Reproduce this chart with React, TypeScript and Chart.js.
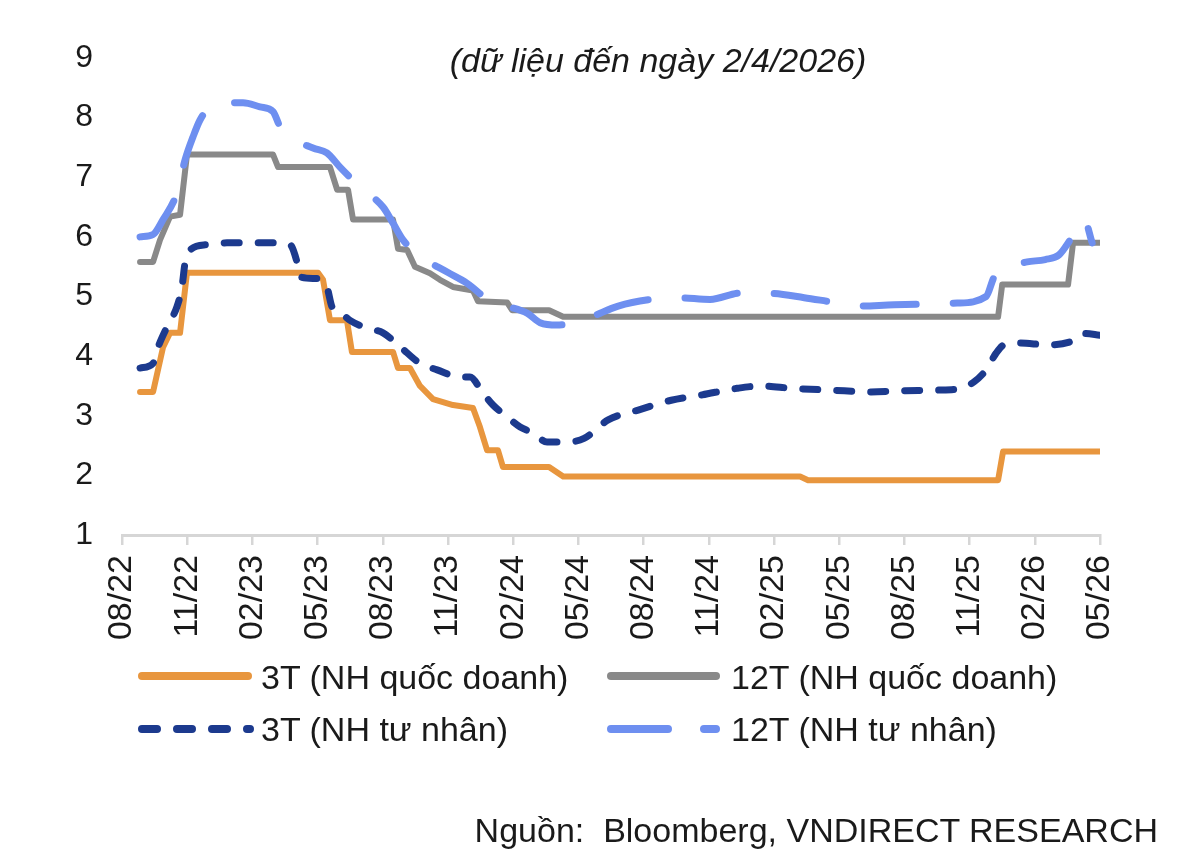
import React, { useEffect, useRef } from "react";
import { Chart, registerables } from "chart.js";

Chart.register(...registerables);

const FONT = '"Liberation Sans", Arial, Helvetica, sans-serif';
const TEXT_COLOR = "#1a1a1a";

// x values are months counted from 08/2022 (0 = 08/22, 45 = 05/26)
const xTickLabels = [
  "08/22", "11/22", "02/23", "05/23", "08/23", "11/23", "02/24", "05/24",
  "08/24", "11/24", "02/25", "05/25", "08/25", "11/25", "02/26", "05/26",
];
const yTicks = [1, 2, 3, 4, 5, 6, 7, 8, 9];

const seriesNames = [
  "3T (NH quốc doanh)",
  "12T (NH quốc doanh)",
  "3T (NH tư nhân)",
  "12T (NH tư nhân)",
];

// 3T (NH quốc doanh)
const stateShortX = [0.83, 1.43, 1.89, 2.21, 2.67, 2.99, 9.02, 9.25, 9.57, 10.35, 10.58, 12.47, 12.7, 13.25, 13.71, 14.31, 15.23, 16.15, 16.47, 16.8, 17.3, 17.53, 19.65, 20.3, 31.2, 31.57, 40.31, 40.54, 45.0];
const stateShortY = [3.4, 3.4, 4.15, 4.39, 4.39, 5.4, 5.4, 5.28, 4.6, 4.6, 4.07, 4.07, 3.8, 3.8, 3.5, 3.28, 3.18, 3.13, 2.81, 2.42, 2.42, 2.14, 2.14, 1.98, 1.98, 1.92, 1.92, 2.4, 2.4];

// 12T (NH quốc doanh)
const stateLongX = [0.83, 1.43, 1.75, 2.21, 2.67, 2.99, 6.95, 7.18, 9.57, 9.9, 10.4, 10.63, 12.47, 12.7, 13.12, 13.48, 14.17, 14.63, 15.23, 16.15, 16.38, 17.72, 17.95, 19.65, 20.3, 40.31, 40.5, 43.53, 43.76, 45.0];
const stateLongY = [5.58, 5.58, 5.95, 6.34, 6.37, 7.38, 7.38, 7.17, 7.17, 6.79, 6.79, 6.29, 6.29, 5.8, 5.78, 5.5, 5.39, 5.28, 5.16, 5.1, 4.92, 4.9, 4.77, 4.77, 4.66, 4.66, 5.2, 5.2, 5.9, 5.9];

// 3T (NH tư nhân)
const privShortX = [0.83, 1.43, 1.66, 2.07, 2.53, 2.76, 2.9, 3.13, 3.91, 4.83, 6.95, 7.73, 8.05, 8.19, 8.97, 9.43, 9.66, 10.03, 10.49, 11.27, 12.01, 12.79, 13.71, 14.5, 15.55, 16.01, 16.61, 17.07, 17.72, 18.32, 18.91, 19.56, 20.39, 21.26, 22.37, 23.79, 25.27, 26.69, 28.3, 29.41, 30.83, 32.63, 34.47, 35.9, 37.51, 38.61, 39.21, 39.76, 40.22, 40.59, 41.33, 42.57, 43.63, 44.27, 45.0];
const privShortY = [3.8, 3.88, 4.15, 4.49, 4.83, 5.16, 5.56, 5.78, 5.87, 5.9, 5.9, 5.87, 5.58, 5.33, 5.3, 5.16, 4.83, 4.74, 4.6, 4.47, 4.39, 4.16, 3.88, 3.77, 3.65, 3.65, 3.38, 3.18, 2.98, 2.81, 2.71, 2.56, 2.56, 2.62, 2.93, 3.1, 3.26, 3.35, 3.46, 3.5, 3.46, 3.43, 3.4, 3.42, 3.43, 3.46, 3.57, 3.77, 4.05, 4.19, 4.22, 4.19, 4.24, 4.38, 4.35];

// 12T (NH tư nhân)
const privLongX = [0.83, 1.43, 1.89, 2.53, 2.9, 3.27, 3.59, 4.05, 4.74, 5.57, 6.35, 6.95, 7.27, 7.59, 8.79, 9.43, 10.03, 10.95, 12.01, 12.47, 12.93, 13.62, 14.96, 15.88, 17.07, 17.86, 18.64, 19.24, 20.02, 21.45, 22.83, 24.53, 25.59, 27.06, 28.49, 29.96, 31.39, 32.63, 33.92, 35.53, 38.43, 39.76, 40.13, 40.59, 41.65, 42.48, 43.12, 43.63, 44.27, 44.64];
const privLongY = [6.0, 6.04, 6.29, 6.74, 7.29, 7.68, 7.96, 8.18, 8.24, 8.25, 8.18, 8.1, 7.85, 7.71, 7.49, 7.41, 7.17, 6.84, 6.5, 6.23, 5.95, 5.7, 5.41, 5.22, 4.89, 4.82, 4.72, 4.56, 4.52, 4.64, 4.84, 4.96, 4.98, 4.95, 5.06, 5.05, 4.98, 4.91, 4.84, 4.86, 4.89, 5.0, 5.33, 5.48, 5.58, 5.62, 5.7, 5.95, 6.29, 5.9];

const colors = ["#E8963E", "#898989", "#1C3A8E", "#6E8FF0"];
const widths = [6, 6, 7, 7];
const dashes: number[][] = [[], [], [15, 19], [53, 37]];

const toPoints = (xs: number[], ys: number[]) => xs.map((x, i) => ({ x, y: ys[i] }));

// legend sample placement (index into datasets, line start/end x, y, thickness, dash)
const legendSamples = [
  { ds: 0, x0: 142, x1: 248, y: 676, dash: [] as number[] },
  { ds: 1, x0: 611, x1: 716, y: 676, dash: [] as number[] },
  { ds: 2, x0: 142, x1: 250, y: 729, dash: [15, 20] },
  { ds: 3, x0: 611, x1: 716, y: 729, dash: [57, 36] },
];

const legendSamplePlugin = {
  id: "legendSamples",
  afterDraw(chart: any) {
    const ctx = chart.ctx as CanvasRenderingContext2D;
    ctx.save();
    legendSamples.forEach((s) => {
      const ds = chart.data.datasets[s.ds];
      ctx.beginPath();
      ctx.strokeStyle = ds.borderColor;
      ctx.lineWidth = 8;
      ctx.lineCap = "round";
      ctx.setLineDash(s.dash);
      ctx.moveTo(s.x0, s.y);
      ctx.lineTo(s.x1, s.y);
      ctx.stroke();
    });
    ctx.restore();
  },
};

export default function App() {
  const canvasRef = useRef<HTMLCanvasElement | null>(null);

  useEffect(() => {
    if (!canvasRef.current) return;
    const series = [
      toPoints(stateShortX, stateShortY),
      toPoints(stateLongX, stateLongY),
      toPoints(privShortX, privShortY),
      toPoints(privLongX, privLongY),
    ];
    const chart = new Chart(canvasRef.current, {
      type: "line",
      data: {
        datasets: series.map((data, i) => ({
          label: seriesNames[i],
          data,
          borderColor: colors[i],
          backgroundColor: colors[i],
          borderWidth: widths[i],
          borderDash: dashes[i],
          borderCapStyle: "round",
          borderJoinStyle: "round",
          pointRadius: 0,
          pointHoverRadius: 0,
          fill: false,
          tension: i >= 2 ? 0.4 : 0,
          cubicInterpolationMode: i >= 2 ? "monotone" : "default",
          order: i >= 2 ? 0 : 1,
        })) as any,
      },
      options: {
        animation: false,
        responsive: true,
        maintainAspectRatio: false,
        parsing: true,
        layout: { padding: { left: 0, right: 100, top: 58, bottom: 217 } },
        plugins: {
          legend: { display: false },
          tooltip: { enabled: false },
          title: { display: false },
        },
        scales: {
          x: {
            type: "linear",
            min: 0,
            max: 45,
            afterFit: (scale: any) => {
              scale.height = 110;
            },
            afterBuildTicks: (scale: any) => {
              scale.ticks = xTickLabels.map((_, i) => ({ value: i * 3 }));
            },
            ticks: {
              autoSkip: false,
              minRotation: 90,
              maxRotation: 90,
              padding: 10,
              color: TEXT_COLOR,
              font: { family: FONT, size: 34 },
              callback: (value: any) => xTickLabels[Math.round(Number(value) / 3)] ?? "",
            },
            grid: {
              display: true,
              drawOnChartArea: false,
              drawTicks: true,
              tickLength: 10,
              color: "#d6d6d6",
              lineWidth: 2.5,
            },
            border: { display: true, color: "#d6d6d6", width: 3 },
          },
          y: {
            type: "linear",
            min: 1,
            max: 9,
            afterFit: (scale: any) => {
              scale.width = 122;
            },
            afterBuildTicks: (scale: any) => {
              scale.ticks = yTicks.map((v) => ({ value: v }));
            },
            ticks: {
              padding: 29,
              color: TEXT_COLOR,
              font: { family: FONT, size: 32 },
            },
            grid: { display: false, drawTicks: false },
            border: { display: false },
          },
        },
      },
      plugins: [legendSamplePlugin],
    });
    return () => chart.destroy();
  }, []);

  const textBase: React.CSSProperties = {
    position: "absolute",
    fontFamily: FONT,
    fontSize: 34,
    lineHeight: "40px",
    color: TEXT_COLOR,
    whiteSpace: "pre",
    margin: 0,
  };

  return (
    <div
      style={{
        position: "absolute",
        left: 0,
        top: 0,
        width: 1200,
        height: 862,
        background: "#ffffff",
        overflow: "hidden",
      }}
    >
      <div style={{ position: "absolute", left: 0, top: 0, width: 1200, height: 862 }}>
        <canvas ref={canvasRef} />
      </div>
      <div style={{ ...textBase, left: 300, width: 716, top: 40, textAlign: "center", fontStyle: "italic" }}>
        (dữ liệu đến ngày 2/4/2026)
      </div>
      <div style={{ ...textBase, left: 261, top: 657 }}>{seriesNames[0]}</div>
      <div style={{ ...textBase, left: 731, top: 657 }}>{seriesNames[1]}</div>
      <div style={{ ...textBase, left: 261, top: 709 }}>{seriesNames[2]}</div>
      <div style={{ ...textBase, left: 731, top: 709 }}>{seriesNames[3]}</div>
      <div style={{ ...textBase, right: 42, top: 810, textAlign: "right" }}>
        {"Nguồn:  Bloomberg, VNDIRECT RESEARCH"}
      </div>
    </div>
  );
}
